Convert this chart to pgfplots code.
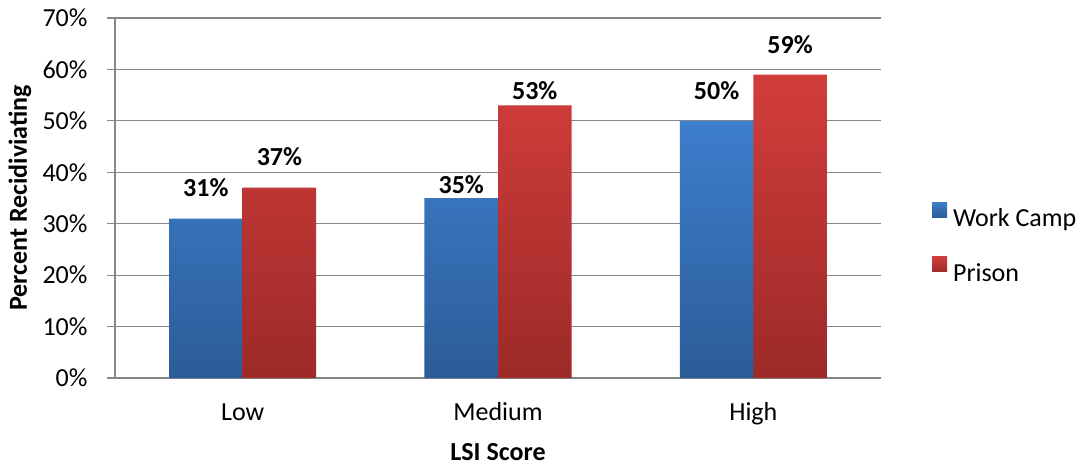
\documentclass[border=0pt]{standalone}
\usepackage{pgfplots}
\pgfplotsset{compat=1.18}
\usepackage{fontspec}
\setmainfont{Carlito}

\definecolor{gridgray}{HTML}{878787}
\definecolor{blueTop}{HTML}{3D7ECD}
\definecolor{blueBot}{HTML}{2C5C98}
\definecolor{redTop}{HTML}{D23D3B}
\definecolor{redBot}{HTML}{9C2A29}

\newcommand{\chartfont}{\fontsize{26}{31}\selectfont}

% x = category, y = percent, s = label lift above the bar (pt)
\pgfplotstableread{
x y s
0 31 22
1 35 5
2 50 21.5
}\workcamp
\pgfplotstableread{
x y s
0 37 22
1 53 5.5
2 59 21.5
}\prison

\begin{document}
\begin{tikzpicture}[x=1pt,y=1pt]
\useasboundingbox (-115,-89) rectangle (966,378);
\begin{axis}[
  at={(0,0)}, anchor=south west,
  scale only axis, width=766pt, height=360pt,
  /pgf/number format/assume math mode=true,
  font=\chartfont,
  ymin=0, ymax=70, ytick={0,10,...,70},
  yticklabel={\pgfmathprintnumber{\tick}\%},
  xmin=-0.5, xmax=2.5,
  xtick={0,1,2}, xticklabels={Low,Medium,High},
  major x tick style={draw=none},
  extra x ticks={-0.5,0.5,1.5,2.5},
  extra x tick labels={},
  extra x tick style={grid=none, tick align=outside, major tick length=7pt,
    tick style={draw=gridgray, line width=1.2pt}},
  ytick align=outside,
  major tick length=8pt,
  ytick style={draw=gridgray, line width=1.2pt},
  ymajorgrids,
  grid style={gridgray, line width=1.2pt},
  axis lines*=left,
  axis line style={gridgray, line width=1.2pt},
  xticklabel style={anchor=base, yshift=-34pt},
  yticklabel style={anchor=east, xshift=-16pt},
  xlabel={\bfseries LSI Score},
  ylabel={\bfseries Percent Recidiviating},
  xlabel style={at={(axis description cs:0.5,-0.2278)}, anchor=base},
  ylabel style={at={(axis description cs:-0.1149,0.5)}, anchor=base},
  ybar=0pt, bar width=0.288,
  visualization depends on={\thisrow{s} \as \lift},
  nodes near coords={\pgfmathprintnumber{\pgfplotspointmeta}\%},
  every node near coord/.append style={font=\bfseries\chartfont, anchor=base, yshift=\lift pt},
  legend cell align=left,
  legend style={at={(axis description cs:1,0.377)}, anchor=west, xshift=48pt,
    draw=none, fill=none, font=\chartfont, row sep=29pt,
    nodes={inner sep=0pt}},
  legend image code/.code={\path[#1, draw=none] (0pt,1pt) rectangle (15pt,16pt);},
]
\addplot[draw=none, top color=blueTop, bottom color=blueBot]
  table[x=x, y=y] {\workcamp};
\addplot[draw=none, top color=redTop, bottom color=redBot]
  table[x=x, y=y] {\prison};
\legend{\ Work Camp, \ Prison}
\end{axis}
\end{tikzpicture}
\end{document}
